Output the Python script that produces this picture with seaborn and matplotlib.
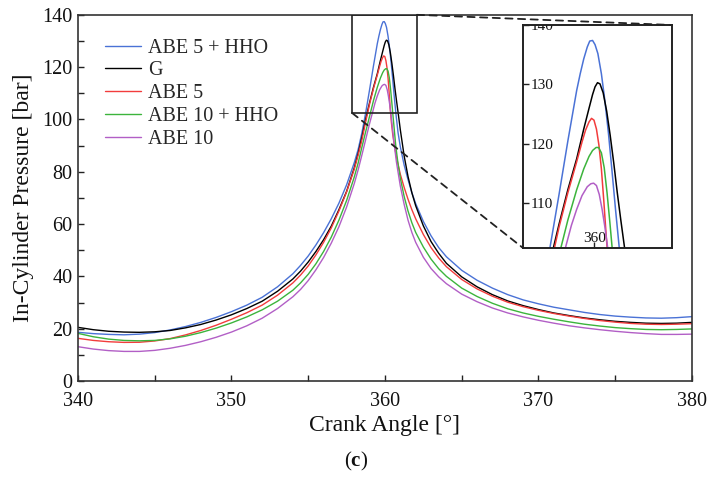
import matplotlib
matplotlib.use("Agg")
import matplotlib.pyplot as plt
import seaborn as sns
import pandas as pd
from matplotlib.patches import Rectangle, ConnectionPatch
from matplotlib.ticker import MultipleLocator

# ---------------- data ----------------
series_names = ["ABE 5 + HHO", "G", "ABE 5", "ABE 10 + HHO", "ABE 10"]
series_colors = ["#4a72d6", "#000000", "#f23c3c", "#3cb43c", "#b25fc6"]

# common tails (crank angle, deg)
left_angle = [340, 341, 342, 343, 344, 345, 346, 347, 348, 349, 350, 351, 352, 353, 354,
              354.5, 355, 355.5, 356, 356.5, 357, 357.5, 358, 358.25, 358.5, 358.75]
right_angle = [361, 361.25, 361.5, 361.75, 362, 362.5, 363, 363.5, 364, 365, 366, 367, 368,
               369, 370, 371, 372, 373, 374, 375, 376, 377, 378, 379, 380]

# ABE 5 + HHO
abe5_hho_left = [18.6, 18.1, 17.8, 17.65, 17.9, 18.5, 19.5, 20.8, 22.4, 24.3, 26.5, 29.0,
                 32.0, 36.0, 41.0, 44.2, 47.8, 52.0, 56.7, 62.0, 68.0, 75.0, 83.5, 88.5,
                 95.0, 102.8]
abe5_hho_peak_angle = [359, 359.25, 359.5, 359.6, 359.7, 359.8, 359.87, 359.95, 360.02, 360.1,
                       360.2, 360.3, 360.4, 360.5, 360.6, 360.71, 360.85]
abe5_hho_peak = [111.5, 120.5, 129.0, 131.8, 134.3, 136.3, 137.3, 137.4, 136.7, 135.2, 131.8,
                 127.2, 121.8, 115.5, 109.0, 102.3, 95.0]
abe5_hho_right = [89.5, 82.5, 77.0, 72.0, 67.8, 61.0, 55.5, 51.0, 47.5, 42.3, 38.5, 35.5,
                  33.0, 31.0, 29.5, 28.2, 27.2, 26.2, 25.4, 24.8, 24.4, 24.1, 24.0, 24.2, 24.6]

# G
g_left = [20.5, 19.6, 19.0, 18.7, 18.6, 18.8, 19.3, 20.3, 21.6, 23.3, 25.3, 27.7, 30.5, 34.3,
          39.0, 42.0, 45.5, 49.5, 54.0, 59.2, 65.5, 72.5, 81.5, 87.0, 93.3, 100.3]
g_peak_angle = [359, 359.25, 359.5, 359.7, 359.85, 359.95, 360.02, 360.09, 360.16, 360.25,
                360.35, 360.45, 360.55, 360.65, 360.75, 360.88]
g_peak = [106.5, 112.3, 117.5, 122.5, 126.0, 128.3, 129.6, 130.3, 130.1, 128.6, 125.5, 121.4,
          116.8, 111.8, 107.2, 101.5]
g_right = [96.0, 86.0, 78.2, 72.0, 67.0, 59.3, 53.3, 48.8, 45.0, 39.8, 36.0, 33.0, 30.6, 28.8,
           27.3, 26.0, 25.0, 24.1, 23.4, 22.8, 22.4, 22.1, 22.0, 22.1, 22.4]

# ABE 5
abe5_left = [16.3, 15.5, 15.0, 14.75, 14.8, 15.3, 16.2, 17.6, 19.3, 21.3, 23.6, 26.1, 29.0,
             32.8, 37.5, 40.5, 44.0, 48.2, 53.0, 58.5, 65.0, 72.3, 81.0, 86.3, 92.3, 99.3]
abe5_peak_angle = [359, 359.25, 359.5, 359.65, 359.75, 359.85, 359.92, 359.99, 360.06, 360.13,
                   360.2, 360.27, 360.34, 360.42, 360.5, 360.6, 360.75]
abe5_peak = [106.0, 111.8, 117.0, 120.3, 122.3, 123.7, 124.3, 124.0, 122.5, 119.8, 115.8,
             110.3, 104.2, 98.7, 94.5, 90.5, 85.5]
abe5_right = [79.0, 74.0, 69.5, 65.5, 62.0, 56.0, 51.0, 47.0, 43.7, 38.8, 35.2, 32.4, 30.1,
              28.4, 27.0, 25.8, 24.8, 23.9, 23.1, 22.5, 22.0, 21.7, 21.6, 21.7, 21.9]

# ABE 10 + HHO
abe10_hho_left = [18.2, 16.9, 16.0, 15.5, 15.35, 15.5, 16.1, 17.1, 18.5, 20.2, 22.2, 24.5,
                  27.2, 30.5, 34.7, 37.5, 40.8, 44.8, 49.5, 55.0, 61.5, 69.0, 78.0, 83.3,
                  89.5, 95.5]
abe10_hho_peak_angle = [359, 359.25, 359.5, 359.7, 359.85, 359.95, 360.05, 360.12, 360.2,
                        360.28, 360.36, 360.44, 360.52, 360.6, 360.7, 360.85]
abe10_hho_peak = [101.3, 107.2, 112.3, 115.8, 117.9, 118.9, 119.4, 119.4, 118.5, 116.0, 111.8,
                  106.8, 101.5, 96.5, 90.0, 83.0]
abe10_hho_right = [77.5, 70.5, 65.0, 60.5, 56.8, 51.2, 46.6, 42.9, 40.0, 35.5, 32.3, 29.7,
                   27.6, 26.0, 24.7, 23.6, 22.6, 21.7, 21.0, 20.4, 20.0, 19.7, 19.6, 19.7, 19.9]

# ABE 10
abe10_left = [13.1, 12.2, 11.6, 11.3, 11.3, 11.7, 12.5, 13.6, 15.0, 16.7, 18.7, 21.1, 24.0,
              27.7, 32.2, 35.0, 38.4, 42.5, 47.2, 52.7, 59.0, 66.5, 75.5, 80.7, 86.5, 92.5]
abe10_peak_angle = [359, 359.18, 359.35, 359.5, 359.65, 359.8, 359.9, 359.98, 360.06, 360.14,
                    360.22, 360.3, 360.39, 360.48, 360.6, 360.75]
abe10_peak = [98.5, 102.5, 106.3, 109.0, 111.3, 112.8, 113.3, 113.4, 113.0, 111.5, 109.0,
              106.0, 102.0, 97.0, 90.5, 83.5]
abe10_right = [74.5, 67.5, 61.5, 56.8, 53.0, 47.3, 43.0, 39.8, 37.2, 33.2, 30.3, 27.9, 26.0,
               24.5, 23.2, 22.1, 21.1, 20.3, 19.6, 19.0, 18.5, 18.1, 17.8, 17.8, 17.9]

x_ticks = [340, 350, 360, 370, 380]
y_ticks = [0, 20, 40, 60, 80, 100, 120, 140]
inset_y_ticks = [110, 120, 130, 140]
inset_x_ticks = [360]

# ---------------- build long table ----------------
series_parts = [
    (abe5_hho_left, abe5_hho_peak_angle, abe5_hho_peak, abe5_hho_right),
    (g_left, g_peak_angle, g_peak, g_right),
    (abe5_left, abe5_peak_angle, abe5_peak, abe5_right),
    (abe10_hho_left, abe10_hho_peak_angle, abe10_hho_peak, abe10_hho_right),
    (abe10_left, abe10_peak_angle, abe10_peak, abe10_right),
]
frames = []
for name, (lp, pa, pp, rp) in zip(series_names, series_parts):
    ang = list(left_angle) + list(pa) + list(right_angle)
    p = list(lp) + list(pp) + list(rp)
    frames.append(pd.DataFrame({"angle": ang, "pressure": p, "fuel": name}))
df = pd.concat(frames, ignore_index=True)
palette = dict(zip(series_names, series_colors))

# ---------------- style ----------------
sns.set_style("ticks")
plt.rcParams["font.family"] = ["Liberation Serif", "DejaVu Sans"]
plt.rcParams["mathtext.fontset"] = "custom"
plt.rcParams["mathtext.rm"] = "Liberation Serif"
plt.rcParams["mathtext.bf"] = "Liberation Serif:bold"

fig = plt.figure(figsize=(7.09, 4.78), dpi=100)
ax = fig.add_axes([0.110, 0.203, 0.866, 0.766])

sns.lineplot(data=df, x="angle", y="pressure", hue="fuel", hue_order=series_names,
             palette=palette, estimator=None, sort=False, linewidth=1.0, ax=ax)

ax.set_xlim(340, 380)
ax.set_ylim(0, 140)
ax.set_xticks(x_ticks)
ax.set_yticks(y_ticks)
ax.xaxis.set_minor_locator(MultipleLocator(5))
ax.yaxis.set_minor_locator(MultipleLocator(10))
ax.tick_params(axis="both", which="both", direction="in", length=4.5, width=1.0,
               colors="#222222", labelcolor="#111111", labelsize=14.5)
ax.tick_params(axis="x", pad=8)
ax.tick_params(axis="y", pad=4)
ax.set_xlabel("Crank Angle [°]", fontsize=17, labelpad=3, color="#111111")
ax.set_ylabel("In-Cylinder Pressure [bar]", fontsize=17, labelpad=6, color="#111111")
for s in ax.spines.values():
    s.set_linewidth(1.2)
    s.set_color("#333333")

leg = ax.legend(loc="upper left", bbox_to_anchor=(0.031, 0.957), frameon=False,
                fontsize=14.5, handlelength=1.8, handletextpad=0.35, labelspacing=0.18,
                borderaxespad=0.0)
for line in leg.get_lines():
    line.set_linewidth(1.0)

# zoom rectangle on main axes
rx0, rx1, ry0, ry1 = 357.85, 362.08, 102.5, 140
ax.add_patch(Rectangle((rx0, ry0), rx1 - rx0, ry1 - ry0, fill=False,
                       edgecolor="#222222", linewidth=1.2, zorder=5))

# ---------------- inset ----------------
axin = fig.add_axes([0.7377, 0.4812, 0.2101, 0.4665])
sns.lineplot(data=df, x="angle", y="pressure", hue="fuel", hue_order=series_names,
             palette=palette, estimator=None, sort=False, linewidth=1.1, ax=axin,
             legend=False)
axin.set_xlim(357.98, 362.2)
axin.set_ylim(102.5, 140)
axin.set_xticks(inset_x_ticks)
axin.set_yticks(inset_y_ticks)
axin.set_xlabel("")
axin.set_ylabel("")
axin.tick_params(axis="both", direction="in", length=4.5, width=1.0, labelsize=11,
                 colors="#222222", labelcolor="#111111")
axin.tick_params(axis="y", pad=-5.5)
axin.tick_params(axis="x", pad=-2.5)
for lab in axin.get_yticklabels():
    lab.set_horizontalalignment("left")
    lab.set_clip_on(True)
    lab.set_clip_box(axin.bbox)
for lab in axin.get_xticklabels():
    lab.set_verticalalignment("bottom")
for s in axin.spines.values():
    s.set_linewidth(1.4)
    s.set_color("#222222")

# dashed connectors
for xyA, xyB in [((rx1, ry1), (1, 1)), ((rx0, ry0), (0, 0))]:
    con = ConnectionPatch(xyA=xyA, coordsA=ax.transData, xyB=xyB, coordsB=axin.transAxes,
                          linestyle=(0, (4, 3)), color="#222222", linewidth=1.3)
    fig.add_artist(con)

fig.text(0.502, 0.034, r"($\mathbf{c}$)", ha="center", va="center", fontsize=15,
         color="#111111")

fig.savefig("out.png", dpi=100)
